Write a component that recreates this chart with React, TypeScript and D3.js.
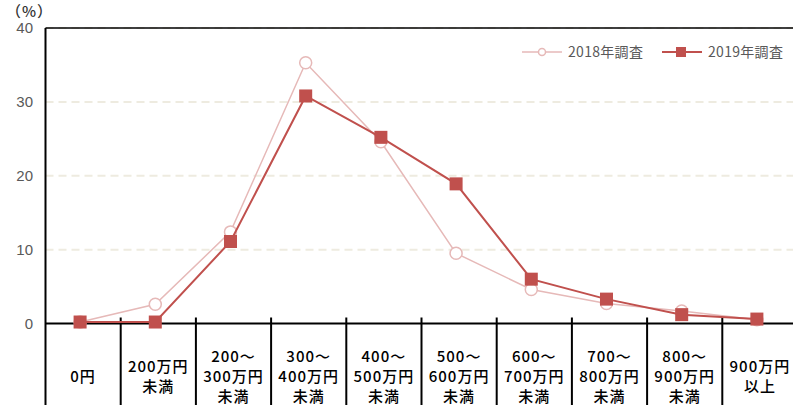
import React from "react";
import * as d3 from "d3";

const categories: string[][] = [
  ["0円"],
  ["200万円", "未満"],
  ["200～", "300万円", "未満"],
  ["300～", "400万円", "未満"],
  ["400～", "500万円", "未満"],
  ["500～", "600万円", "未満"],
  ["600～", "700万円", "未満"],
  ["700～", "800万円", "未満"],
  ["800～", "900万円", "未満"],
  ["900万円", "以上"],
];
const values2018 = [0.2, 2.6, 12.4, 35.3, 24.6, 9.5, 4.6, 2.7, 1.7, 0.5];
const values2019 = [0.2, 0.2, 11.1, 30.8, 25.2, 18.9, 6.0, 3.3, 1.2, 0.6];
const yTicks = [0, 10, 20, 30, 40];
const seriesNames = ["2018年調査", "2019年調査"];

const W = 793;
const H = 405;
const left = 45.5;
const top = 28;
const zeroY = 323.5;
const bandW = 75.2;

export default function App() {
  const x = d3
    .scaleBand<number>()
    .domain(categories.map((_, i) => i))
    .range([left, left + bandW * categories.length])
    .padding(0);
  const y = d3.scaleLinear().domain([0, 40]).range([zeroY, top]);
  const px = (i: number) => (x(i) as number) + x.bandwidth() * 0.46;
  const line = d3
    .line<number>()
    .x((_, i) => px(i))
    .y((d) => y(d));

  const c2018 = "#E6B9B8";
  const c2019 = "#C0504D";
  const font = "'Noto Sans CJK JP', 'Noto Sans', sans-serif";

  return (
    <svg width={W} height={H} style={{ position: "absolute", left: 0, top: 0, display: "block" }} fontFamily={font}>
      <rect width={W} height={H} fill="#fff" />
      {/* gridlines */}
      {yTicks.filter((t) => t > 0).map((t) => (
        <line key={t} x1={left} x2={W} y1={y(t)} y2={y(t)} stroke="#EEEBE0" strokeWidth={2} strokeDasharray="8,5" />
      ))}
      {/* top border */}
      <line x1={left} x2={W} y1={top} y2={top} stroke="#000" strokeWidth={1.5} />
      {/* y tick labels */}
      {yTicks.map((t) => (
        <text key={t} x={33} y={y(t)} dy="0.35em" textAnchor="end" fontSize={15} fill="#595959" fontFamily="'Liberation Sans', Arial, sans-serif">
          {t}
        </text>
      ))}
      <text x={6} y={17} fontSize={15} fill="#333" fontWeight={500} letterSpacing={1}>（%）</text>
      {/* left axis */}
      <line x1={left} x2={left} y1={top} y2={H} stroke="#000" strokeWidth={2} />
      {/* x axis */}
      <line x1={left} x2={W} y1={zeroY} y2={zeroY} stroke="#000" strokeWidth={2} />
      {/* separators */}
      {categories.slice(1).map((_, i) => (
        <line key={i} x1={x(i + 1) as number} x2={x(i + 1) as number} y1={zeroY - 6} y2={H} stroke="#000" strokeWidth={2} />
      ))}
      {/* category labels */}
      {categories.map((lines, i) => {
        const cx = (x(i) as number) + x.bandwidth() / 2;
        const cy = 377;
        const lh = 20;
        const start = cy - ((lines.length - 1) * lh) / 2;
        return (
          <text key={i} textAnchor="middle" fontSize={15} fill="#000" fontWeight={500} letterSpacing={1}>
            {lines.map((l, j) => (
              <tspan key={j} x={cx} y={start + j * lh} dy="0.35em">
                {l}
              </tspan>
            ))}
          </text>
        );
      })}
      {/* 2018 series */}
      <path d={line(values2018) || ""} fill="none" stroke={c2018} strokeWidth={1.5} />
      {values2018.map((v, i) => (
        <circle key={i} cx={px(i)} cy={y(v)} r={6} fill="#fff" stroke={c2018} strokeWidth={1.5} />
      ))}
      {/* 2019 series */}
      <path d={line(values2019) || ""} fill="none" stroke={c2019} strokeWidth={2} />
      {values2019.map((v, i) => (
        <rect key={i} x={px(i) - 6.5} y={y(v) - 6.5} width={13} height={13} fill={c2019} />
      ))}
      {/* legend */}
      <g>
        <line x1={522} x2={562} y1={52} y2={52} stroke={c2018} strokeWidth={1.5} />
        <circle cx={542} cy={52} r={3.5} fill="#fff" stroke={c2018} strokeWidth={1.5} />
        <text x={568} y={52} dy="0.35em" fontSize={14} fill="#595959" letterSpacing={0.3}>{seriesNames[0]}</text>
        <line x1={662} x2={702} y1={52} y2={52} stroke={c2019} strokeWidth={2} />
        <rect x={676} y={47} width={10} height={10} fill={c2019} />
        <text x={708} y={52} dy="0.35em" fontSize={14} fill="#595959" letterSpacing={0.3}>{seriesNames[1]}</text>
      </g>
    </svg>
  );
}
